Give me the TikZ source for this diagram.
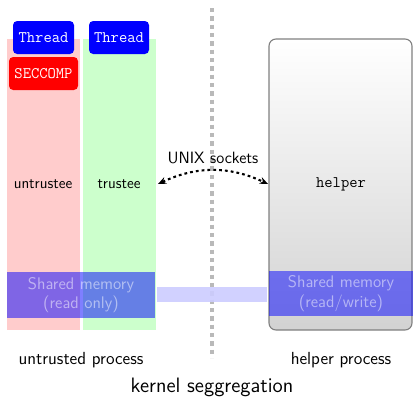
\documentclass[tikz,border=0pt]{standalone}
\usetikzlibrary{arrows.meta}
\begin{document}
\begin{tikzpicture}[x=0.72pt,y=-0.72pt,
  lbl/.style={font=\sffamily\fontsize{12.6}{15}\selectfont},
  role/.style={font=\sffamily\fontsize{11.1}{13}\selectfont},
  tag/.style={rounded corners=3pt, text=white, font=\ttfamily\fontsize{11.6}{14}\selectfont, inner sep=0pt, minimum height=33*0.72pt},
  shm/.style={fill=blue, opacity=0.5, text=white, font=\sffamily\fontsize{12.1}{14.2}\selectfont, align=center, inner sep=0pt},
  sep/.style={draw=gray!55, line width=3pt, dash pattern=on 3pt off 3pt}
]
\useasboundingbox (0,0) rectangle (413,398);
% process columns
\fill[red!20] (7,39) rectangle (80,330);
\fill[green!20] (83,39) rectangle (156,330);
% helper process box
\draw[gray, thick, rounded corners=5pt, top color=white, bottom color=gray!35]
  (269,39) rectangle (412,330);
% thread and seccomp tags
\node[tag, fill=blue, minimum width=61*0.72pt] (t1) at (43.5,37.5) {Thread};
\node[tag, fill=blue, minimum width=60*0.72pt] (t2) at (119,37.5) {Thread};
\node[tag, fill=red, minimum width=69*0.72pt] (sc) at (43.5,73.5) {SECCOMP};
% role labels
\node[role] (ut) at (43,184) {untrustee};
\node[role] (tr) at (119,184) {trustee};
\node[font=\ttfamily\fontsize{11.6}{14}\selectfont] (hp) at (341,184) {helper};
% kernel separation line
\draw[sep] (212,8) -- (212,358);
% shared memory link
\fill[blue!20, opacity=0.9] (157,287) rectangle (267,302);
\node[shm, minimum width=148*0.72pt, minimum height=46*0.72pt] (sl) at (81,295) {Shared memory\\(read only)};
\node[shm, minimum width=144*0.72pt, minimum height=45*0.72pt] (sr) at (341,293.5) {Shared memory\\(read/write)};
% sockets
\coordinate (sa) at (158,184);
\coordinate (sb) at (268,184);
\draw[line width=1.5pt, dash pattern=on 2pt off 2.2pt, {Stealth[length=6pt,width=5pt]}-{Stealth[length=6pt,width=5pt]}] (sa) to[bend left=25] node[font=\sffamily\fontsize{11.8}{14}\selectfont, above=1pt, pos=0.5] (us) {UNIX sockets} (sb);
% bottom labels
\node[lbl] (up) at (81,360) {untrusted process};
\node[lbl] (hpp) at (341,360) {helper process};
\node[font=\sffamily\fontsize{15}{18}\selectfont] (ks) at (212,387) {kernel seggregation};
\end{tikzpicture}
\end{document}
